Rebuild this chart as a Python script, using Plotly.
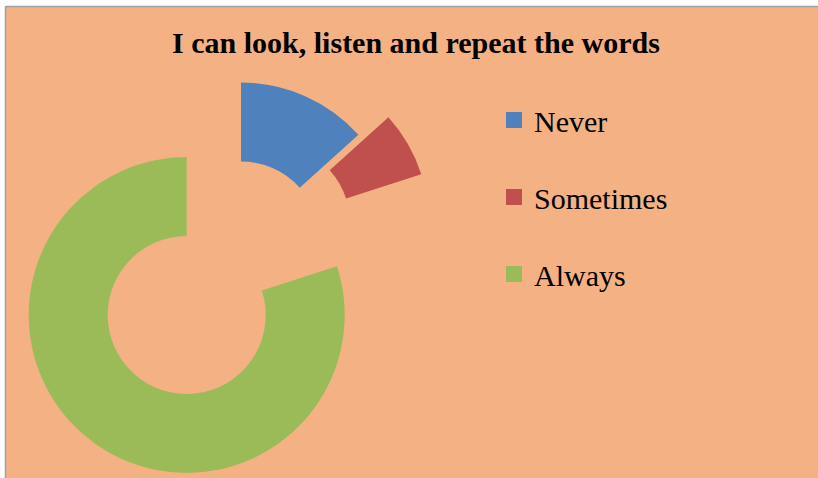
import plotly.graph_objects as go

W, H = 818, 478

# ---- data ----
categories = ["Never", "Sometimes", "Always"]
values = [2, 1, 12]
colors = ["#4F81BD", "#C0504D", "#9BBB59"]
title_text = "I can look, listen and repeat the words"

# ---- layout helpers (pixel -> paper) ----
def px(x):
    return x / W

def py(y):
    return 1 - y / H

BG = "#F4B183"
BORDER = "#A0A0A0"
R = 158
# exploded centre of each slice (pixels)
centres = [(241, 240.5), (271, 223), (186.7, 315)]

fig = go.Figure()

for i, (cx, cy) in enumerate(centres):
    slice_colors = [c if j == i else "rgba(0,0,0,0)" for j, c in enumerate(colors)]
    fig.add_trace(go.Pie(
        labels=categories,
        values=values,
        hole=0.5,
        sort=False,
        direction="clockwise",
        rotation=0,
        marker=dict(colors=slice_colors, line=dict(width=0)),
        textinfo="none",
        hoverinfo="label+value",
        showlegend=False,
        domain=dict(x=[px(cx - R), px(cx + R)], y=[py(cy + R), py(cy - R)]),
    ))

# legend entries
for i, (name, c) in enumerate(zip(categories, colors)):
    fig.add_trace(go.Scatter(
        x=[None], y=[None], mode="markers", name=name,
        marker=dict(symbol="square", size=16, color=c, line=dict(width=0)),
        legendgroup=f"g{i}", showlegend=True,
    ))

fig.update_layout(
    width=W, height=H,
    margin=dict(l=0, r=0, t=0, b=0),
    paper_bgcolor="white",
    plot_bgcolor="rgba(0,0,0,0)",
    xaxis=dict(visible=False),
    yaxis=dict(visible=False),
    title=dict(
        text=title_text,
        font=dict(family="Liberation Serif", size=30, color="black", weight=700),
        x=px(416), xanchor="center",
        y=py(42), yanchor="middle",
    ),
    legend=dict(
        x=px(494), y=py(94), xanchor="left", yanchor="top",
        traceorder="grouped", tracegroupgap=35,
        font=dict(family="Liberation Serif", size=30, color="black"),
        bgcolor="rgba(0,0,0,0)",
        itemsizing="trace",
    ),
    shapes=[
        dict(type="rect", xref="paper", yref="paper",
             x0=px(5.5), y0=py(6.5), x1=1.3, y1=-0.3,
             fillcolor=BG, line=dict(width=0), layer="below"),
        dict(type="line", xref="paper", yref="paper",
             x0=px(5.5), y0=py(6.5), x1=px(5.5), y1=-0.3,
             line=dict(color=BORDER, width=1.5), layer="below"),
        dict(type="line", xref="paper", yref="paper",
             x0=px(5.5), y0=py(6.5), x1=1.3, y1=py(6.5),
             line=dict(color=BORDER, width=1.5), layer="below"),
    ],
)

fig.write_html(
    "out.html",
    config={"displayModeBar": False},
    post_script="document.body.style.margin='0';document.body.style.overflow='hidden';",
)
